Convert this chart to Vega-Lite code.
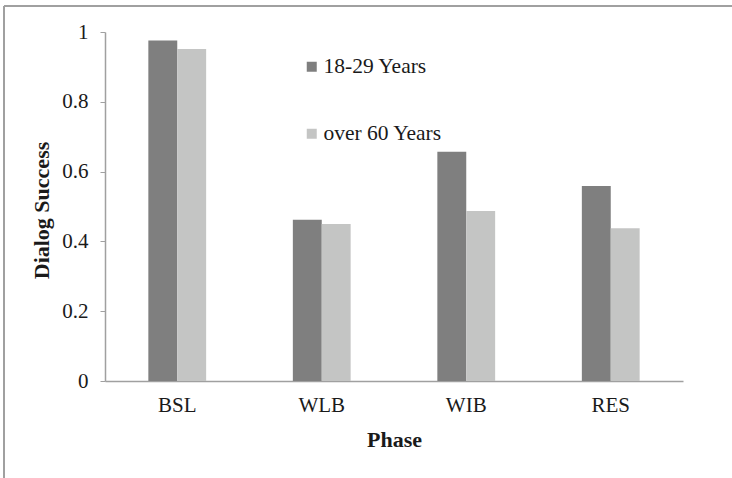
{
  "$schema": "https://vega.github.io/schema/vega-lite/v6.json",
  "width": 728,
  "height": 472,
  "autosize": "none",
  "padding": {"left": 4, "top": 6, "right": 0, "bottom": 0},
  "background": "white",
  "config": {
    "view": {"stroke": "#a0a0a0", "strokeWidth": 2, "strokeDash": [728, 1200, 472, 0]},
    "font": "'Liberation Serif', 'DejaVu Serif', serif"
  },
  "data": {
    "values": [
      {"phase": "BSL", "group": "18-29 Years", "value": 0.976},
      {"phase": "BSL", "group": "over 60 Years", "value": 0.951},
      {"phase": "WLB", "group": "18-29 Years", "value": 0.462},
      {"phase": "WLB", "group": "over 60 Years", "value": 0.450},
      {"phase": "WIB", "group": "18-29 Years", "value": 0.657},
      {"phase": "WIB", "group": "over 60 Years", "value": 0.487},
      {"phase": "RES", "group": "18-29 Years", "value": 0.559},
      {"phase": "RES", "group": "over 60 Years", "value": 0.438}
    ]
  },
  "mark": {"type": "bar"},
  "encoding": {
    "x": {
      "field": "phase",
      "type": "nominal",
      "sort": ["BSL", "WLB", "WIB", "RES"],
      "title": "Phase",
      "scale": {"paddingInner": 0.6, "paddingOuter": 0.3, "range": [101, 679]},
      "axis": {
        "offset": -97,
        "labelAngle": 0,
        "labelFont": "'Liberation Serif', 'DejaVu Serif', serif",
        "labelFontSize": 21,
        "labelColor": "#1a1a1a",
        "labelPadding": 13,
        "ticks": false,
        "domainColor": "#a0a0a0",
        "domainWidth": 1.5,
        "titleFont": "'Liberation Serif', 'DejaVu Serif', serif",
        "titleFontSize": 22,
        "titleFontWeight": "bold",
        "titleColor": "#1a1a1a",
        "titlePadding": 14
      }
    },
    "xOffset": {"field": "group", "type": "nominal", "sort": ["18-29 Years", "over 60 Years"]},
    "y": {
      "field": "value",
      "type": "quantitative",
      "title": "Dialog Success",
      "scale": {"domain": [0, 1], "nice": false, "range": [375, 26]},
      "axis": {
        "offset": -101,
        "values": [0, 0.2, 0.4, 0.6, 0.8, 1],
        "format": ".1~f",
        "grid": false,
        "labelFont": "'Liberation Serif', 'DejaVu Serif', serif",
        "labelFontSize": 21,
        "labelColor": "#1a1a1a",
        "labelPadding": 12,
        "tickSize": 5,
        "tickColor": "#a0a0a0",
        "domainColor": "#a0a0a0",
        "domainWidth": 1.5,
        "titleFont": "'Liberation Serif', 'DejaVu Serif', serif",
        "titleFontSize": 22,
        "titleFontWeight": "bold",
        "titleColor": "#1a1a1a",
        "titlePadding": 8,
        "titleY": 204
      }
    },
    "color": {
      "field": "group",
      "type": "nominal",
      "scale": {"domain": ["18-29 Years", "over 60 Years"], "range": ["#7f7f7f", "#c4c5c4"]},
      "legend": {
        "title": null,
        "orient": "none",
        "legendX": 297,
        "legendY": 50,
        "symbolType": "square",
        "symbolSize": 100,
        "symbolStrokeWidth": 0,
        "labelFont": "'Liberation Serif', 'DejaVu Serif', serif",
        "labelFontSize": 21.5,
        "labelColor": "#1a1a1a",
        "labelOffset": 1,
        "rowPadding": 44
      }
    }
  }
}
